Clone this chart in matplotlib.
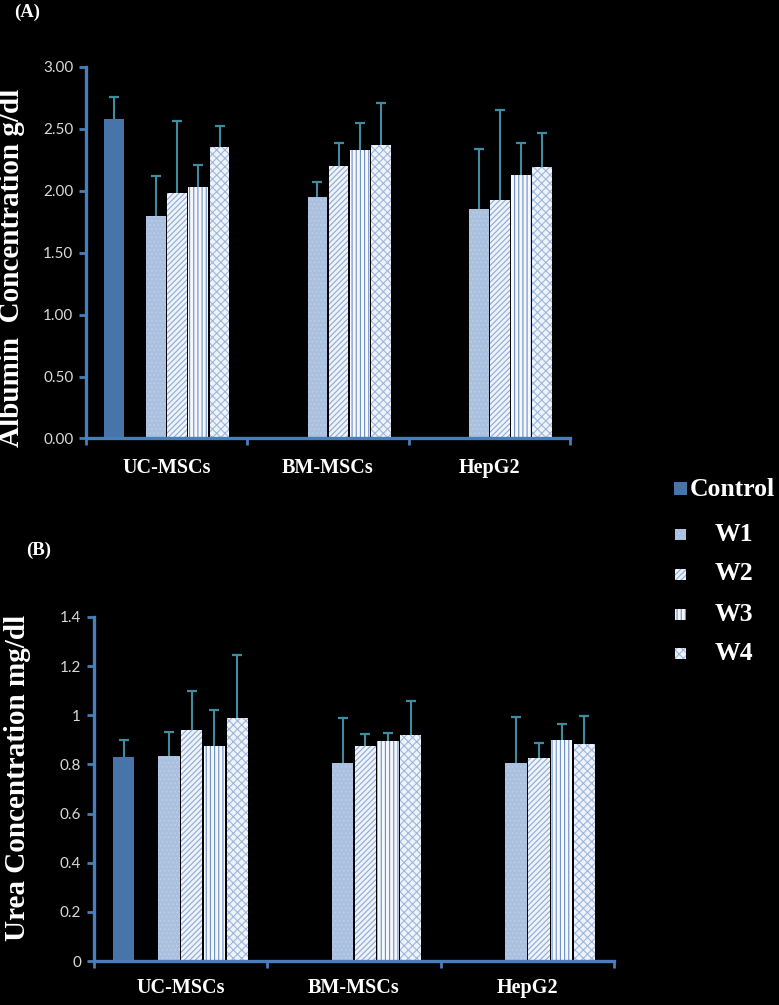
import numpy as np
import matplotlib.pyplot as plt
from matplotlib.patches import Rectangle

groups = ['UC-MSCs', 'BM-MSCs', 'HepG2']
series = ['Control', 'W1', 'W2', 'W3', 'W4']

# albumin (g/dl), mean and upper error per group
alb_control = [2.58, np.nan, np.nan]
alb_w1 = [1.80, 1.95, 1.85]
alb_w2 = [1.98, 2.20, 1.93]
alb_w3 = [2.03, 2.33, 2.13]
alb_w4 = [2.35, 2.37, 2.19]
alb_control_err = [0.18, np.nan, np.nan]
alb_w1_err = [0.32, 0.12, 0.49]
alb_w2_err = [0.58, 0.19, 0.72]
alb_w3_err = [0.18, 0.22, 0.26]
alb_w4_err = [0.17, 0.34, 0.28]

# urea (mg/dl)
urea_control = [0.83, np.nan, np.nan]
urea_w1 = [0.834, 0.807, 0.805]
urea_w2 = [0.942, 0.873, 0.825]
urea_w3 = [0.873, 0.894, 0.898]
urea_w4 = [0.990, 0.918, 0.882]
urea_control_err = [0.068, np.nan, np.nan]
urea_w1_err = [0.098, 0.182, 0.190]
urea_w2_err = [0.156, 0.052, 0.061]
urea_w3_err = [0.149, 0.035, 0.068]
urea_w4_err = [0.255, 0.140, 0.114]

alb_ticks = [0, 0.5, 1.0, 1.5, 2.0, 2.5, 3.0]
alb_ticklabels = ['0.00', '0.50', '1.00', '1.50', '2.00', '2.50', '3.00']
urea_ticks = [0, 0.2, 0.4, 0.6, 0.8, 1.0, 1.2, 1.4]
urea_ticklabels = ['0', '0.2', '0.4', '0.6', '0.8', '1', '1.2', '1.4']

# (face colour, hatch colour, hatch)
styles = [('#4775aa', '#4775aa', None),
          ('#aac0df', '#bccdea', '....'),
          ('#eef3fa', '#8eaad6', '//////'),
          ('#f4f7fc', '#6f8fc4', '||||'),
          ('#eef3fa', '#9fb6dc', 'xxxx')]
slots = [0, 2, 3, 4, 5]
pitch = 0.131
barw = 0.123
axis_blue = '#4a7ebb'
err_col = '#3f8ca1'

plt.rcParams['hatch.linewidth'] = 0.8
serif = 'Liberation Serif'

W, H = 779, 1005
fig = plt.figure(figsize=(W / 100, H / 100), dpi=100)
fig.set_facecolor('black')


def px_box(l, r, b, t):
    return [l / W, 1 - b / H, (r - l) / W, (b - t) / H]


def draw_panel(ax, means, errs, ticks, ticklabels, ymax, pad):
    ax.set_facecolor('black')
    x = np.arange(len(groups)) + 0.5
    for k in range(len(series)):
        face, hcol, hatch = styles[k]
        xs = x + (slots[k] - 2.5) * pitch
        m = np.array(means[k])
        e = np.array(errs[k])
        ax.bar(xs, m, width=barw, color=face, edgecolor=hcol, hatch=hatch,
               linewidth=0, zorder=2)
        ax.vlines(xs, m, m + e, color=err_col, linewidth=1.5, zorder=3)
        ax.plot(xs, m + e, ls='none', marker='_', ms=7, mew=1.6,
                color=err_col, zorder=3)
    ax.set_xlim(0, 3)
    ax.set_ylim(0, ymax)
    ax.set_xticks([0, 1, 2, 3])
    ax.set_xticklabels([])
    ax.set_xticks(x, groups, minor=True)
    ax.tick_params(axis='x', which='major', length=5, width=2, color=axis_blue,
                   direction='out')
    ax.tick_params(axis='x', which='minor', length=0, pad=pad, labelcolor='white')
    for lab in ax.get_xticklabels(minor=True):
        lab.set_fontfamily(serif)
        lab.set_fontweight('bold')
        lab.set_fontsize(14.5)
    ax.set_yticks(ticks, ticklabels)
    ax.tick_params(axis='y', length=5, width=2, color=axis_blue, pad=4,
                   labelcolor='#d9d9d9', labelsize=11)
    for lab in ax.get_yticklabels():
        lab.set_fontfamily('Lato')
    for s in ['top', 'right']:
        ax.spines[s].set_visible(False)
    for s in ['left', 'bottom']:
        ax.spines[s].set_color(axis_blue)
        ax.spines[s].set_linewidth(2.4)


ax1 = fig.add_axes(px_box(86, 570, 438.5, 67))
draw_panel(ax1,
           [alb_control, alb_w1, alb_w2, alb_w3, alb_w4],
           [alb_control_err, alb_w1_err, alb_w2_err, alb_w3_err, alb_w4_err],
           alb_ticks, alb_ticklabels, 3.0, 14)

ax2 = fig.add_axes(px_box(93.6, 614.3, 961, 617))
draw_panel(ax2,
           [urea_control, urea_w1, urea_w2, urea_w3, urea_w4],
           [urea_control_err, urea_w1_err, urea_w2_err, urea_w3_err, urea_w4_err],
           urea_ticks, urea_ticklabels, 1.4, 12)

txt = dict(color='white', family=serif, weight='bold')
fig.text(12 / W, 1 - 268 / H, 'Albumin  Concentration g/dl', rotation=90,
         ha='center', va='center', fontsize=21, **txt)
fig.text(18 / W, 1 - 778 / H, 'Urea Concentration mg/dl', rotation=90,
         ha='center', va='center', fontsize=21, **txt)
fig.text(27 / W, 1 - 12 / H, '(A)', ha='center', va='center', fontsize=13.5, **txt)
fig.text(39 / W, 1 - 550 / H, '(B)', ha='center', va='center', fontsize=13.5, **txt)

# legend
leg_y = [489, 534, 574, 614, 653]
for k, name in enumerate(series):
    face, hcol, hatch = styles[k]
    size = 13 if k == 0 else 11
    fig.patches.append(Rectangle(((680.5 - size / 2) / W, 1 - (leg_y[k] + size / 2) / H),
                                 size / W, size / H, transform=fig.transFigure,
                                 facecolor=face, edgecolor=hcol, hatch=hatch,
                                 linewidth=0))
    tx = 690 if k == 0 else 715
    fig.text(tx / W, 1 - leg_y[k] / H, name, ha='left', va='center',
             fontsize=18.5, **txt)

fig.savefig('out.png', dpi=100, facecolor='black')
